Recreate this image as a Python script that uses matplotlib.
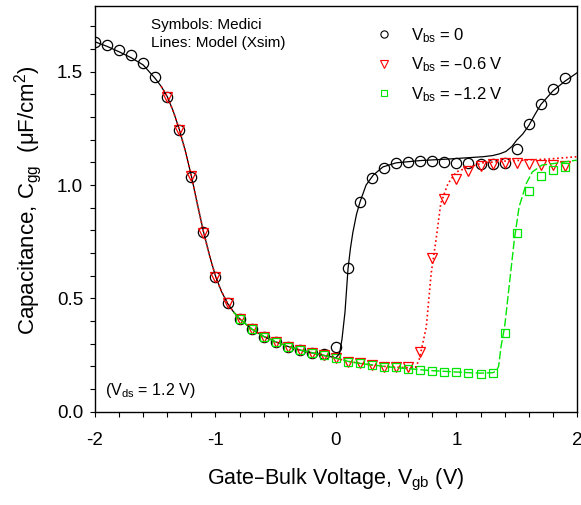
import matplotlib
matplotlib.use("Agg")
import matplotlib.pyplot as plt
from matplotlib.lines import Line2D
from matplotlib.ticker import MultipleLocator

plt.rcParams["font.family"] = ["Liberation Sans", "DejaVu Sans"]
plt.rcParams["mathtext.default"] = "regular"
plt.rcParams["axes.unicode_minus"] = False

# Medici points (symbols)
v_sym = [-2.0, -1.9, -1.8, -1.7, -1.6, -1.5, -1.4, -1.3, -1.2, -1.1, -1.0,
         -0.9, -0.8, -0.7, -0.6, -0.5, -0.4, -0.3, -0.2, -0.1, 0.0,
         0.1, 0.2, 0.3, 0.4, 0.5, 0.6, 0.7, 0.8, 0.9, 1.0,
         1.1, 1.2, 1.3, 1.4, 1.5, 1.6, 1.7, 1.8, 1.9]
c_vbs0 = [1.632, 1.617, 1.598, 1.576, 1.537, 1.475, 1.387, 1.243, 1.037, 0.794, 0.596,
          0.478, 0.408, 0.363, 0.331, 0.309, 0.287, 0.274, 0.26, 0.255, 0.287,
          0.633, 0.926, 1.032, 1.074, 1.096, 1.103, 1.107, 1.106, 1.103, 1.098,
          1.096, 1.091, 1.091, 1.096, 1.157, 1.268, 1.356, 1.424, 1.473]

v_sym_06 = v_sym[6:]
c_vbs06 = [1.387, 1.243, 1.04, 0.79, 0.596,
           0.478, 0.408, 0.363, 0.331, 0.309, 0.287, 0.274, 0.26, 0.25, 0.235,
           0.22, 0.213, 0.206, 0.198, 0.196, 0.196, 0.265, 0.677, 0.937, 1.025,
           1.063, 1.085, 1.091, 1.096, 1.096, 1.091, 1.088, 1.088, 1.085]

v_sym_12 = v_sym[12:]
c_vbs12 = [0.408, 0.363, 0.331, 0.309, 0.287, 0.274, 0.26, 0.25, 0.235,
           0.22, 0.213, 0.206, 0.198, 0.196, 0.19, 0.184, 0.181, 0.176, 0.174,
           0.171, 0.168, 0.17, 0.346, 0.787, 0.973, 1.04, 1.066, 1.078]

# Xsim model curves (lines)
v_line0 = [-2.0, -1.9, -1.8, -1.7, -1.6, -1.5, -1.45, -1.4, -1.35, -1.3, -1.25, -1.2,
           -1.15, -1.1, -1.05, -1.0, -0.95, -0.9, -0.85, -0.8, -0.7, -0.6, -0.5,
           -0.4, -0.3, -0.2, -0.1, 0.0, 0.03, 0.05, 0.075, 0.1, 0.12, 0.14, 0.17,
           0.2, 0.25, 0.31, 0.39, 0.5, 0.7, 0.94, 1.22, 1.3, 1.36, 1.41, 1.46,
           1.5, 1.55, 1.6, 1.65, 1.7, 1.8, 1.9, 2.0]
c_line0 = [1.632, 1.612, 1.588, 1.562, 1.53, 1.47, 1.435, 1.39, 1.325, 1.245, 1.15, 1.04,
           0.915, 0.795, 0.69, 0.598, 0.53, 0.478, 0.44, 0.41, 0.365, 0.332, 0.308,
           0.288, 0.272, 0.26, 0.248, 0.238, 0.257, 0.32, 0.44, 0.63, 0.72, 0.79, 0.87,
           0.926, 1.0, 1.044, 1.08, 1.098, 1.108, 1.115, 1.125, 1.13, 1.138, 1.148, 1.17,
           1.198, 1.225, 1.262, 1.31, 1.355, 1.415, 1.458, 1.495]

v_line06 = [-1.45, -1.4, -1.35, -1.3, -1.25, -1.2, -1.15, -1.1, -1.05, -1.0, -0.95,
            -0.9, -0.85, -0.8, -0.7, -0.6, -0.5, -0.4, -0.3, -0.2, -0.1, 0.0, 0.1,
            0.2, 0.3, 0.4, 0.5, 0.6, 0.66, 0.69, 0.72, 0.75, 0.79, 0.83, 0.87, 0.93,
            1.0, 1.08, 1.22, 1.41, 1.77, 2.0]
c_line06 = [1.435, 1.39, 1.325, 1.245, 1.15, 1.04, 0.915, 0.795, 0.69, 0.598, 0.53,
            0.478, 0.44, 0.41, 0.365, 0.332, 0.308, 0.288, 0.272, 0.26, 0.248, 0.236, 0.222,
            0.213, 0.206, 0.2, 0.196, 0.194, 0.196, 0.228, 0.3, 0.375, 0.61, 0.757, 0.919, 1.007,
            1.058, 1.075, 1.098, 1.106, 1.115, 1.125]

v_line12 = [-0.85, -0.8, -0.7, -0.6, -0.5, -0.4, -0.3, -0.2, -0.1, 0.0, 0.1, 0.2,
            0.3, 0.4, 0.5, 0.6, 0.7, 0.8, 0.9, 1.0, 1.1, 1.2, 1.3, 1.33, 1.35, 1.37,
            1.4, 1.44, 1.48, 1.52, 1.58, 1.63, 1.71, 1.85, 2.0]
c_line12 = [0.44, 0.41, 0.365, 0.332, 0.308, 0.288, 0.272, 0.26, 0.248, 0.236, 0.222, 0.213,
            0.206, 0.2, 0.194, 0.19, 0.185, 0.181, 0.178, 0.175, 0.172, 0.17, 0.172, 0.178,
            0.2, 0.287, 0.375, 0.566, 0.757, 0.904, 1.007, 1.058, 1.088, 1.098, 1.11]

green = "#00e600"

fig = plt.figure(figsize=(5.81, 5.05), dpi=100)
ax = fig.add_axes([0.1635, 0.1848, 0.8295, 0.8033])

# symbols
ax.plot(v_sym, c_vbs0, "o", ms=7.4, mfc="none", mec="black", mew=0.9, zorder=3)
ax.plot(v_sym_06, c_vbs06, "v", ms=7.0, mfc="none", mec="red", mew=0.9, zorder=4)
ax.plot(v_sym_12, c_vbs12, "s", ms=6.0, mfc="none", mec=green, mew=0.9, zorder=5)

# model lines
ax.plot(v_line0, c_line0, "-", color="black", lw=0.9, zorder=6)
ax.plot(v_line06, c_line06, ":", color="red", lw=1.2, zorder=7)
ax.plot(v_line12, c_line12, color=green, lw=1.0, dashes=(6, 2), zorder=8)

ax.set_xlim(-2, 2)
ax.set_ylim(0, 1.79)
ax.xaxis.set_major_locator(MultipleLocator(1))
ax.xaxis.set_minor_locator(MultipleLocator(0.2))
ax.yaxis.set_major_locator(MultipleLocator(0.5))
ax.yaxis.set_minor_locator(MultipleLocator(0.1))
ax.yaxis.set_major_formatter(plt.FormatStrFormatter("%.1f"))
ax.tick_params(which="both", direction="out", length=3.6, width=0.8, labelsize=13.5)
ax.tick_params(axis="x", which="major", pad=11)
ax.tick_params(axis="y", which="major", pad=5)
for sp in ax.spines.values():
    sp.set_linewidth(1.0)

ax.set_xlabel("Gate\u2013Bulk Voltage, $V_{gb}$ (V)", fontsize=15.5, labelpad=13)
ax.set_ylabel("Capacitance, $C_{gg}$  (\u03bcF/cm$^{2}$)", fontsize=16)
ax.yaxis.set_label_coords(-0.106, 0.522)

ax.text(0.116, 0.97, "Symbols: Medici\nLines: Model (Xsim)", transform=ax.transAxes,
        fontsize=11, va="top", ha="left", linespacing=1.35)
ax.text(0.02, 0.03, "($V_{ds}$ = 1.2 V)", transform=ax.transAxes,
        fontsize=11.5, va="bottom", ha="left")

handles = [
    Line2D([], [], ls="none", marker="o", ms=5.2, mfc="none", mec="black", mew=0.8),
    Line2D([], [], ls="none", marker="v", ms=5.4, mfc="none", mec="red", mew=0.8),
    Line2D([], [], ls="none", marker="s", ms=4.8, mfc="none", mec=green, mew=0.8),
]
labels = ["$V_{bs}$ = 0", "$V_{bs}$ = \u20130.6 V", "$V_{bs}$ = \u20131.2 V"]
ax.legend(handles, labels, loc="upper left", bbox_to_anchor=(376 / 581, 1 - 26 / 505),
          bbox_transform=fig.transFigure, frameon=False, fontsize=12,
          handlelength=1.0, handletextpad=1.1, labelspacing=0.65, borderpad=0,
          borderaxespad=0)

fig.savefig("out.png", dpi=100)
